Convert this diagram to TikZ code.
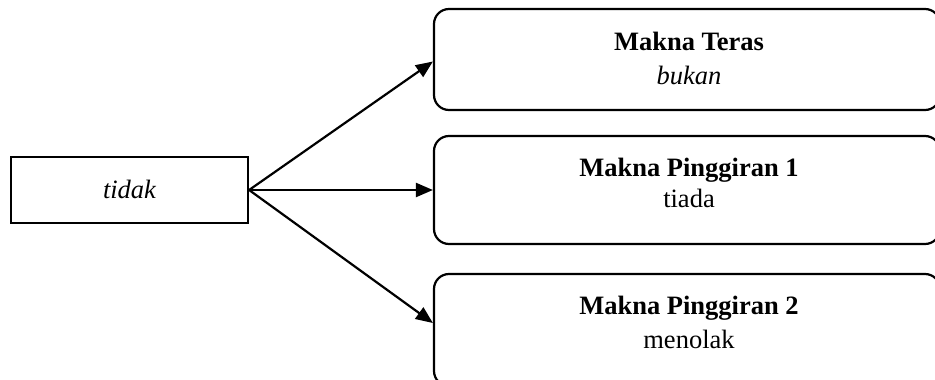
\documentclass[tikz,border=0pt]{standalone}
\usepackage{fontspec}
\setmainfont{Liberation Serif}
\usetikzlibrary{arrows.meta,calc}
\begin{document}
\begin{tikzpicture}[x=1pt,y=-1pt,
  box/.style={draw=black,line width=2.2pt,rounded corners=15pt,minimum width=506pt,inner sep=0pt},
  plainbox/.style={draw=black,line width=2.2pt,minimum width=237pt,minimum height=66pt,inner sep=0pt},
  lbl/.style={font=\fontsize{26.5}{31}\selectfont,anchor=base,inner sep=0pt},
  conn/.style={line width=2.2pt,-{Triangle[length=17pt,width=14pt]}}]
\useasboundingbox (0,0) rectangle (935,380);
\clip (0,0) rectangle (935,380);
\node[plainbox] (tidak) at (129.5,190) {};
\node[lbl] (ttidak) at (129.5,198) {\itshape tidak};
\node[box,minimum height=101pt] (b1) at (687,59.5) {};
\node[box,minimum height=108pt] (b2) at (687,190) {};
\node[box,minimum height=112pt] (b3) at (687,330) {};
\node[lbl] (t1a) at (689,50) {\bfseries Makna Teras};
\node[lbl] (t1b) at (689,84) {\itshape bukan};
\node[lbl] (t2a) at (689,176) {\bfseries Makna Pinggiran 1};
\node[lbl] (t2b) at (689,207) {tiada};
\node[lbl] (t3a) at (689,314) {\bfseries Makna Pinggiran 2};
\node[lbl] (t3b) at (689,348) {menolak};
\coordinate (e1) at ($(b1.west)+(0,2)$);
\coordinate (e3) at ($(b3.west)+(0,-7)$);
\draw[conn] (tidak.east) -- (e1);
\draw[conn] (tidak.east) -- (b2.west);
\draw[conn] (tidak.east) -- (e3);
\end{tikzpicture}
\end{document}
